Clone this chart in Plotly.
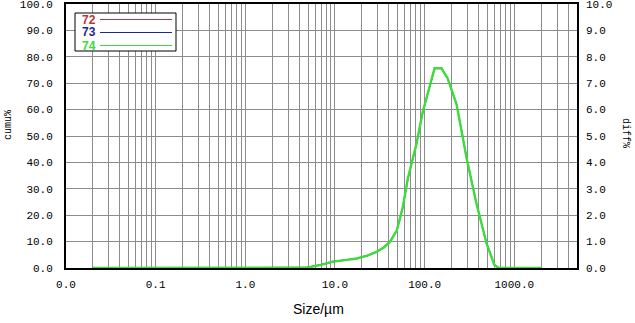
import plotly.graph_objects as go

# Particle size (µm) and differential volume (%) for the three samples
sizes = [0.02, 0.05, 0.1, 0.5, 1.0, 2.0, 4.5, 5.0, 7.0, 9.5, 13.0, 17.5, 23.0, 29.0,
         35.0, 41.0, 49.0, 57.0, 65.0, 81.0, 95.0, 114.0, 129.0, 154.0, 180.0,
         227.0, 293.0, 378.0, 489.0, 600.0, 676.0, 1000.0, 2000.0]
diff_72 = [0, 0, 0, 0, 0, 0, 0, 0.02, 0.12, 0.23, 0.30, 0.37, 0.48, 0.62,
           0.80, 1.00, 1.44, 2.30, 3.40, 4.70, 5.90, 6.94, 7.55, 7.56, 7.18,
           6.20, 4.18, 2.44, 0.94, 0.11, 0, 0, 0]
diff_73 = [0, 0, 0, 0, 0, 0, 0, 0.03, 0.13, 0.25, 0.31, 0.36, 0.47, 0.60,
           0.77, 0.98, 1.42, 2.28, 3.38, 4.68, 5.88, 6.93, 7.56, 7.57, 7.20,
           6.21, 4.19, 2.45, 0.95, 0.12, 0, 0, 0]
diff_74 = [0, 0, 0, 0, 0, 0, 0, 0.02, 0.12, 0.24, 0.30, 0.36, 0.47, 0.61,
           0.78, 0.99, 1.43, 2.30, 3.40, 4.70, 5.90, 6.95, 7.57, 7.57, 7.19,
           6.20, 4.18, 2.44, 0.94, 0.11, 0, 0, 0]
series_names = ["72", "73", "74"]
series_colors = ["#b03a3a", "#1f2a8a", "#3ddc3d"]

x_major = [0.01, 0.1, 1, 10, 100, 1000]
x_major_text = ["0.0", "0.1", "1.0", "10.0", "100.0", "1000.0"]
y_left_ticks = [0, 10, 20, 30, 40, 50, 60, 70, 80, 90, 100]
y_left_text = ["%.1f" % v for v in y_left_ticks]
y_right_ticks = [0, 1, 2, 3, 4, 5, 6, 7, 8, 9, 10]
y_right_text = ["%.1f" % v for v in y_right_ticks]

# all gridline positions on the log axis (1..9 per decade)
x_grid = []
for d in [0.01, 0.1, 1, 10, 100, 1000]:
    for m in range(1, 10):
        v = d * m
        if v <= 5000:
            x_grid.append(v)
x_grid_text = [x_major_text[x_major.index(v)] if v in x_major else "" for v in x_grid]

tick_font = dict(family="Liberation Mono", size=11, color="black")

fig = go.Figure()
# invisible anchor trace so that the left (cumulative) axis is drawn
fig.add_trace(go.Scatter(x=[sizes[0]], y=[0], mode="markers", marker=dict(opacity=0),
                         hoverinfo="skip", showlegend=False))
for name, color, vals, w in zip(series_names, series_colors,
                                [diff_72, diff_73, diff_74], [1.2, 1.2, 2.4]):
    fig.add_trace(go.Scatter(x=sizes, y=vals, mode="lines", name=name,
                             line=dict(color=color, width=w), yaxis="y2",
                             showlegend=False))

TOP = 4
fig.update_layout(
    width=635, height=323,
    margin=dict(l=66, r=58, t=TOP, b=55),
    paper_bgcolor="white", plot_bgcolor="white",
    xaxis=dict(type="log", range=[-2, 3.699], automargin=False,
               tickvals=x_grid, ticktext=x_grid_text, tickfont=tick_font,
               showgrid=True, gridcolor="#8c8c8c", gridwidth=1,
               showline=True, linecolor="black", linewidth=2, mirror=True,
               ticks="", zeroline=False, ticklabelstandoff=5,
               ticklabeloverflow="allow"),
    yaxis=dict(range=[0, 100], tickvals=y_left_ticks, ticktext=y_left_text,
               automargin=False, ticklabeloverflow="allow",
               tickfont=tick_font, showgrid=True, gridcolor="#8c8c8c", gridwidth=1,
               showline=True, linecolor="black", linewidth=2, mirror=True,
               ticks="", zeroline=False, ticklabelstandoff=9),
    yaxis2=dict(range=[0, 10], overlaying="y", side="right", automargin=False,
                tickvals=y_right_ticks, ticktext=y_right_text, tickfont=tick_font,
                showgrid=False, zeroline=False, ticks="", ticklabelstandoff=8,
                ticklabeloverflow="allow", showline=False),
)

PH = 268 - TOP

def px_x(px):
    return (px - 66) / 511

def px_y(py):
    return (268 - py) / PH

def note(text, x, y, font, angle=0, pad=1):
    fig.add_annotation(text=text, xref="paper", yref="paper", x=px_x(x), y=px_y(y),
                       xanchor="center", yanchor="middle", showarrow=False,
                       textangle=angle, font=font, borderpad=pad)

note("Size/µm", 318, 309, dict(family="Liberation Sans", size=14, color="black"))
note("cumu%", 8, 125, dict(family="Liberation Mono", size=10, color="black"), -90)
note("diff%", 626, 133, dict(family="Liberation Mono", size=10, color="black"), 90)

# legend box (text first, then line sample)
fig.add_shape(type="rect", xref="paper", yref="paper", x0=px_x(75), x1=px_x(176),
              y0=px_y(51), y1=px_y(13),
              line=dict(color="black", width=1), fillcolor="white", layer="above")
row_y = [19.5, 32.5, 45.5]
for name, color, yy in zip(series_names, series_colors, row_y):
    note("<b>%s</b>" % name, 88.5, yy,
         dict(family="Liberation Sans", size=12, color=color), pad=0)
    fig.add_shape(type="line", xref="paper", yref="paper",
                  x0=px_x(100), x1=px_x(172), y0=px_y(yy), y1=px_y(yy),
                  line=dict(color=color, width=1), layer="above")

fig.write_html("out.html", config={"displayModeBar": False},
               post_script="document.body.style.margin='0';")
